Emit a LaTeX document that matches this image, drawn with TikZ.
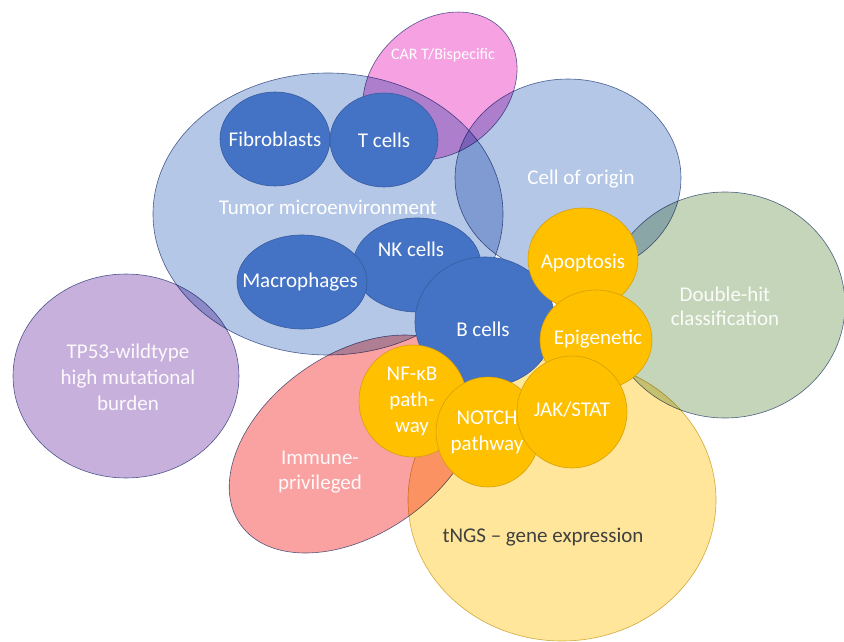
\documentclass[tikz,border=0pt]{standalone}
\usepackage{fontspec}
\setmainfont{Carlito}
\definecolor{tmeC}{RGB}{180,199,231}
\definecolor{carC}{RGB}{246,162,226}
\definecolor{dhC}{RGB}{197,213,185}
\definecolor{tpC}{RGB}{200,176,220}
\definecolor{imC}{RGB}{250,162,162}
\definecolor{ngC}{RGB}{255,230,155}
\definecolor{blueC}{RGB}{68,114,196}
\definecolor{orC}{RGB}{255,192,0}
\definecolor{lineC}{RGB}{90,108,155}
\definecolor{blueLine}{RGB}{55,92,160}
\definecolor{orLine}{RGB}{215,160,10}
\definecolor{ngLine}{RGB}{210,180,80}
\definecolor{darkT}{RGB}{64,64,64}
\begin{document}
\begin{tikzpicture}[x=1pt,y=-1pt,
  big/.style={line width=0.6pt, draw=lineC},
  cell/.style={fill=blueC, draw=blueLine, line width=0.6pt},
  path/.style={fill=orC, draw=orLine, line width=0.6pt},
  lbl/.style={text=white, font=\fontsize{21}{26}\selectfont, align=center, inner sep=0pt},
  smalllbl/.style={text=white, font=\fontsize{16}{20}\selectfont, align=center, inner sep=0pt}]
\useasboundingbox[fill=white] (0,0) rectangle (844,642);
\begin{scope}[blend mode=multiply]
  \filldraw[big, fill=tmeC] (328,214) ellipse [x radius=175pt, y radius=141pt];
  \filldraw[big, fill=carC, rotate around={40:(440,86)}] (440,86) ellipse [x radius=84pt, y radius=66pt];
  \filldraw[big, fill=tmeC] (568,178) ellipse [x radius=113pt, y radius=99pt];
  \filldraw[big, fill=dhC] (725,305) ellipse [x radius=120pt, y radius=113pt];
  \filldraw[big, fill=ngC, draw=ngLine] (562,500) ellipse [x radius=154pt, y radius=141pt];
  \filldraw[big, fill=imC, rotate around={35:(355,444)}] (355,444) ellipse [x radius=140pt, y radius=90pt];
  \filldraw[big, fill=tpC] (126,376) ellipse [x radius=113pt, y radius=102pt];
\end{scope}
% blue cells
\filldraw[cell] (275,139) ellipse [x radius=55pt, y radius=47pt];
\filldraw[cell] (384,140) ellipse [x radius=54pt, y radius=47pt];
\filldraw[cell] (417,265) ellipse [x radius=64pt, y radius=47pt];
\filldraw[cell] (302,282) ellipse [x radius=65pt, y radius=47pt];
\filldraw[cell] (485,322) ellipse [x radius=70pt, y radius=65pt];
% pathways
\filldraw[path] (583,259) ellipse [x radius=55pt, y radius=51pt];
\filldraw[path] (596,340) ellipse [x radius=56pt, y radius=50pt];
\filldraw[path] (413,401) ellipse [x radius=54pt, y radius=56pt];
\filldraw[path] (488,432) ellipse [x radius=52pt, y radius=55pt];
\filldraw[path] (572,412) ellipse [x radius=55pt, y radius=56pt];
% labels
\node[smalllbl] (car) at (443,55) {CAR T/Bispecific};
\node[lbl] (fib) at (275,139) {Fibroblasts};
\node[lbl] (tc) at (384,140) {T cells};
\node[lbl] (tme) at (328,207) {Tumor microenvironment};
\node[lbl] (coo) at (581,179) {Cell of origin};
\node[lbl] (mac) at (300,282) {Macrophages};
\node[lbl] (nk) at (411,249) {NK cells};
\node[lbl] (bc) at (483,329) {B cells};
\node[lbl] (apo) at (583,263) {Apoptosis};
\node[lbl] (epi) at (598,339) {Epigenetic};
\node[lbl] (jak) at (572,410) {JAK/STAT};
\node[lbl] (notch) at (487,432) {NOTCH\\pathway};
\node[lbl] (nfkb) at (412,401) {NF-κB\\path-\\way};
\node[lbl, text=white!92!tpC] (tp53) at (128,377) {TP53-wildtype\\high mutational\\burden};
\node[lbl, text=white!92!dhC, font=\fontsize{21}{24}\selectfont] (dh) at (725,306) {Double-hit\\classification};
\node[lbl, text=white!92!imC, font=\fontsize{21}{25}\selectfont] (imm) at (320,472) {Immune-\\privileged};
\node[lbl, text=darkT] (ngs) at (543,537) {tNGS – gene expression};
\end{tikzpicture}
\end{document}
